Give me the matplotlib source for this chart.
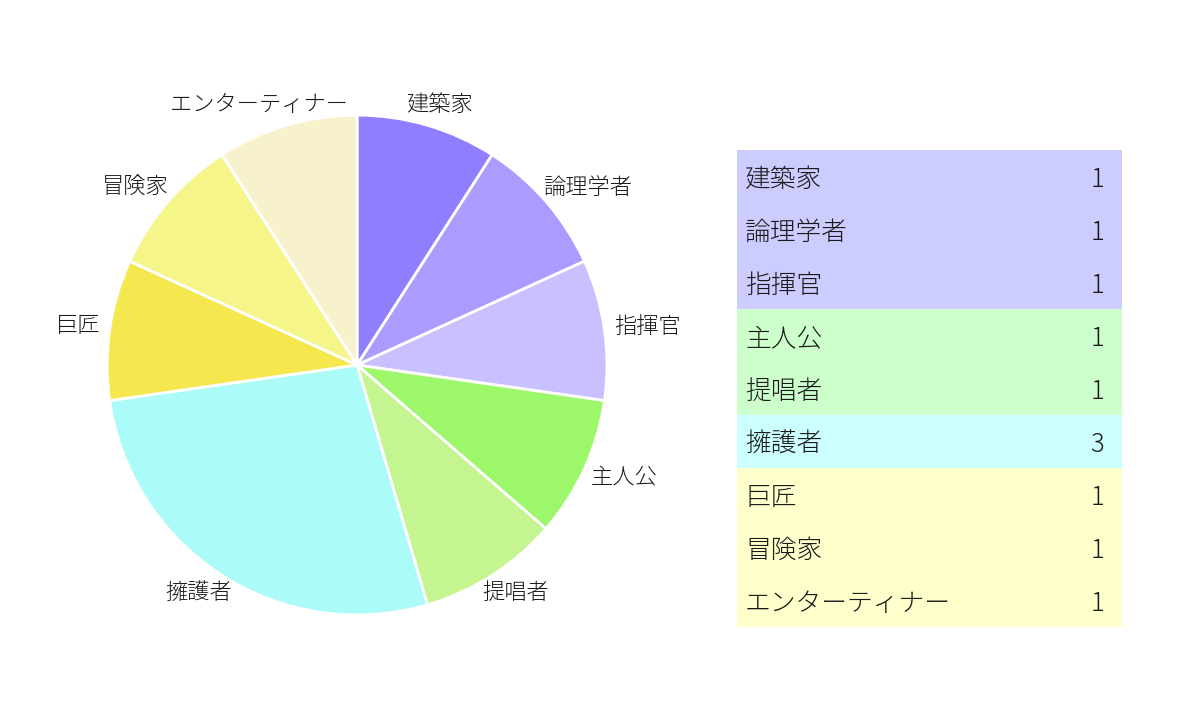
import numpy as np
import matplotlib
matplotlib.use("Agg")
import matplotlib.pyplot as plt

plt.rcParams['font.family'] = ['Noto Sans CJK JP', 'DejaVu Sans']

# データ
names = ['建築家', '論理学者', '指揮官', '主人公', '提唱者', '擁護者', '巨匠', '冒険家', 'エンターティナー']
counts = [1, 1, 1, 1, 1, 3, 1, 1, 1]
slice_colors = ['#8f7fff', '#ab9dff', '#c8c0ff', '#9cf76a', '#c4f590',
                '#abfcf9', '#f5e84f', '#f5f58a', '#f7f2cc']
groups = ['analyst', 'analyst', 'analyst', 'diplomat', 'diplomat',
          'sentinel', 'explorer', 'explorer', 'explorer']
group_colors = {'analyst': '#ccccff', 'diplomat': '#ccffcc',
                'sentinel': '#ccffff', 'explorer': '#ffffcc'}

text_color = '#1a1a1a'

fig = plt.figure(figsize=(12, 7.02), dpi=100)

# 円グラフ
ax = fig.add_axes([0.0892, 0.124, 0.4167, 0.712])
wedges, _ = ax.pie(counts, colors=slice_colors, startangle=90, counterclock=False,
                   wedgeprops=dict(edgecolor='white', linewidth=2))
ax.set_xlim(-1, 1)
ax.set_ylim(-1, 1)
ax.set_aspect('equal')
ax.axis('off')

# ラベルは扇形の中央方向、円の外側に配置
renderer = fig.canvas.get_renderer()
for w, name in zip(wedges, names):
    ang = np.deg2rad((w.theta1 + w.theta2) / 2)
    c, s = np.cos(ang), np.sin(ang)
    t = ax.annotate(name, xy=(1.04 * c, 1.04 * s), xytext=(0, 0),
                    textcoords='offset pixels', ha='center', va='center',
                    fontsize=16, color=text_color, fontweight='light',
                    annotation_clip=False)
    bb = t.get_window_extent(renderer)
    t.set_position((bb.width / 2 * c, bb.height / 2 * s))

# 表
tx = fig.add_axes([0.6142, 0.1068, 0.3208, 0.6795])
rows = np.arange(len(names))
tx.barh(rows, 1, height=1.0, left=0, align='center',
        color=[group_colors[g] for g in groups], linewidth=0)
for i, (name, n) in enumerate(zip(names, counts)):
    tx.text(0.021, i + 0.06, name, ha='left', va='center', fontsize=18.5,
            color=text_color, fontweight='light')
    tx.text(0.953, i + 0.06, str(n), ha='right', va='center', fontsize=18.5,
            color=text_color, fontweight='light')
tx.set_xlim(0, 1)
tx.set_ylim(len(names) - 0.5, -0.5)
tx.axis('off')

plt.savefig('out.png', dpi=100)
